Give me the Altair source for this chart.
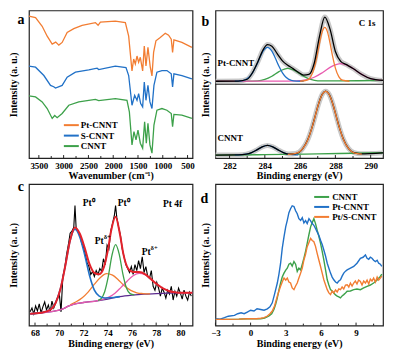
import altair as alt
import pandas as pd

FONT = "Liberation Serif"
W1, W2 = 164, 168
H1, H2 = 148, 142

# ---------------- Panel a : FTIR ----------------
a_pt_x = [3701,3567,3433,3332,3231,3160,3097,3030,2929,2795,2627,2359,2305,2258,1957,1755,1688,1621,1587,1554,1520,1487,1453,1406,1373,1339,1299,1252,1218,1185,1138,1051,950,883,829,802,775,614,413]
a_pt_y = [143.3,141.7,133,123,115,117,114,116.7,126.7,130.7,134,136.7,134,137.3,138.3,136.7,123,88,100,95,103,96.7,101.7,88,113,93,111.7,91.7,83,106.7,118.3,121.7,126,124,120,106.7,119.3,116.7,111.7]
a_s_x = [3701,3567,3399,3265,3200,3164,3030,2929,2762,2493,2325,2292,1957,1742,1688,1621,1567,1520,1487,1446,1406,1373,1339,1299,1259,1218,1178,1118,1017,916,829,802,775,614,413]
a_s_y = [92.7,91.7,83.3,73.3,72,70.7,73.3,81.7,86.7,89,90.7,89.3,92.7,91.3,83.3,53.3,63.3,58.3,65,55,51.7,76.7,58.3,73.3,56.7,50,73.3,86.7,88.3,88.3,85,71.7,85,83.3,80]
a_c_x = [3701,3567,3433,3332,3231,3180,3131,3030,2896,2694,2359,2292,1957,1722,1674,1621,1581,1540,1500,1453,1406,1366,1332,1299,1259,1218,1178,1118,1017,916,829,802,775,614,413]
a_c_y = [62.7,61.7,56.7,50,40,43,40.7,45,53.3,56.7,59.3,58,60,58.3,46.7,13.3,26.7,18.3,28.3,15,10,36.7,15,35,13.3,5,33.3,48.3,50,48.3,45,31.7,44,43.3,40]
a_ticks = [3500,3000,2500,2000,1500,1000,500]
a_minor = [3250,2750,2250,1750,1250,750]
a_names = ["Pt-CNNT", "S-CNNT", "CNNT"]

# ---------------- Panel b : C 1s ----------------
b1_blue_x = [282.3,282.5,282.8,283.1,283.3,283.5,283.7,283.9,284.15,284.4,284.6,284.8,285.0,285.2,285.5,285.8,286.2]
b1_blue_y = [77,77.2,78,81.1,85.5,92.1,100,107.2,111,107.2,100,92.1,85.5,81.1,78,77.2,77]
b1_green_x = [281.2,283.0,283.6,284.0,284.4,284.8,285.3,285.8,286.2,286.6,287.0,287.6,290.7]
b1_green_y = [77,77.1,77.4,78.8,82,86.7,90,86.7,82,78.8,77.4,77.3,78]
b1_orange_x = [286.0,286.4,286.6,286.8,286.95,287.1,287.25,287.4,287.55,287.7,287.85,288.0,288.2,288.4,288.8]
b1_orange_y = [77,78.1,81.4,90.2,101.4,115,126.5,131,126.5,115,101.4,90.2,81.4,78.1,77]
b1_pink_x = [281.2,285.3,285.8,286.3,286.8,287.3,287.8,288.3,288.8,289.3,289.8,290.3,290.7]
b1_pink_y = [77,77.2,77.3,78.3,81,86.1,92,94.7,92,86.1,81,78.3,77.8]
b1_sum_x = [281.2,282.5,283.0,283.3,283.6,283.9,284.15,284.4,284.7,285.0,285.3,285.6,285.9,286.2,286.5,286.8,287.1,287.4,287.7,288.0,288.3,288.6,289.0,289.5,290.0,290.7]
b1_sum_y = [77,77.2,79,85.6,96.4,108.5,113.8,112.2,104.7,97.5,93,89.7,86.1,83.2,83.8,95.1,122.1,141.4,129,106.9,97,93.9,89.8,83.8,79.6,77.8]
b2_blue_x = [282.3,282.95,283.25,283.55,283.85,284.15,284.45,284.75,285.05,285.35,285.9]
b2_blue_y = [3.1,3.9,5.5,8.2,11.2,12.7,11.2,8.2,5.5,3.9,3.1]
b2_orange_x = [285.3,285.85,286.15,286.45,286.65,286.85,287.05,287.25,287.45,287.65,287.85,288.05,288.25,288.45,288.75,289.05,289.5]
b2_orange_y = [3.6,5.3,9.4,18.9,29.1,41.7,54.4,63.7,67,63.7,54.4,41.7,29.1,18.9,9.4,5.3,4]
b2_green_x = [281.2,284.0,287.0,290.7]
b2_green_y = [3,3.4,4.2,5.3]
b2_sum_x = [281.2,282.5,282.95,283.25,283.55,283.85,284.15,284.45,284.75,285.05,285.35,285.75,286.15,286.45,286.65,286.85,287.05,287.25,287.45,287.65,287.85,288.05,288.25,288.45,288.75,289.05,289.45,290.0,290.7]
b2_sum_y = [3,3.1,3.9,5.5,8.2,11.2,12.7,11.2,8.2,5.5,4.0,4.5,9.5,19,29.2,41.8,54.5,63.8,67.1,63.8,54.5,41.8,29.2,19,9.5,5.4,4.2,4.5,5.2]
b_divider = [74]
b_ticks = [282,284,286,288,290]
b_minor = [283,285,287,289]

# ---------------- Panel c : Pt 4f ----------------
c_raw_x = [67.6,67.75,67.9,68.05,68.2,68.35,68.5,68.65,68.8,68.95,69.1,69.25,69.4,69.55,69.7,69.85,70.0,70.15,70.3,70.45,70.6,70.75,70.9,71.05,71.2,71.3,71.4,71.55,71.7,71.85,72.0,72.15,72.3,72.45,72.6,72.75,72.9,73.05,73.2,73.35,73.5,73.65,73.8,73.95,74.1,74.25,74.4,74.55,74.65,74.75,74.9,75.05,75.2,75.35,75.5,75.65,75.8,75.95,76.1,76.25,76.4,76.55,76.7,76.85,77.0,77.15,77.3,77.45,77.6,77.75,77.9,78.05,78.2,78.35,78.5,78.65,78.8,78.95,79.1,79.25,79.4,79.55,79.7,79.85,80.0,80.15,80.3,80.45,80.6,80.75,80.9]
c_raw_y = [14,18,12,20,15,22,13,19,24,16,21,14,25,18,23,28,33,14,50,58,72,82,94,96,100,122,98,96,92,84,80,72,64,60,52,55,50,56,52,58,55,68,62,82,78,96,104,112,122,110,100,92,78,70,62,58,54,60,52,62,56,66,58,70,54,60,50,48,56,40,36,44,38,30,38,34,28,36,32,40,26,35,30,38,33,27,36,30,26,34,30]
c_bg_x = [67.6,68.5,69.5,70.3,70.8,71.3,72.0,73.0,74.0,75.0,76.0,77.0,78.0,79.0,81.0]
c_bg_y = [12,13,14.5,17,20,22,23.5,25,27,29.5,31,32,32.5,33,33.5]
c_blue_x = [67.6,68.5,69.3,69.7,70.1,70.5,70.9,71.3,71.7,72.1,72.5,72.9,73.3,73.8,74.5,75.0]
c_blue_y = [12.1,13.2,16.8,23.5,37.5,61,86.5,98,90,72,51,36,30,28,28.5,29.5]
c_green_x = [73.2,73.45,73.75,74.05,74.35,74.65,74.95,75.25,75.55,75.85,76.2]
c_green_y = [25.7,27.3,34.5,50,71.4,82.3,72.7,52.7,38.2,32.5,31.3]
c_orange_x = [70.9,71.4,71.9,72.4,72.9,73.4,73.9,74.4,74.9,75.4,75.9,76.4,76.9,77.5]
c_orange_y = [21.1,24.2,28.3,34.3,42.1,48.9,52.8,51.3,46.2,40.2,35.8,33.4,32.6,32.3]
c_pink_x = [67.6,68.5,69.5,70.3,70.8,71.3,72.0,73.0,73.6,74.1,74.6,75.1,75.6,76.1,76.6,77.1,77.6,78.1,78.6,79.1,79.6,80.1,81.0]
c_pink_y = [12,13,14.5,17,20,22,23.5,25,26.7,29,32.9,38.9,45.2,50.7,53.1,51.7,47,41.8,37.5,35,33.8,33.3,33.5]
c_fit_x = [67.6,68.5,69.3,69.7,70.1,70.5,70.9,71.3,71.7,72.1,72.5,72.9,73.3,73.7,74.0,74.3,74.65,75.0,75.3,75.7,76.1,76.6,77.1,77.6,78.1,78.6,79.1,79.6,80.1,81.0]
c_fit_y = [12,13,16.4,22.9,37.2,60.8,87,99.8,93.4,79.1,62.5,53.6,52.2,60,75.7,97.5,110.7,93.7,72.4,57.7,54.4,54.4,52.2,47,41.8,37.5,35,33.8,33.3,33.5]
c_ticks = [68,70,72,74,76,78,80]
c_minor = [69,71,73,75,77,79]

# ---------------- Panel d : valence band ----------------
d_blue_x = [-3.0,-2.6,-2.23,-1.9,-1.38,-1.1,-0.81,-0.55,-0.28,0.0,0.29,0.55,0.86,1.15,1.43,1.65,1.85,2.05,2.28,2.42,2.56,2.7,2.85,3.0,3.13,3.27,3.41,3.55,3.70,3.84,3.98,4.12,4.27,4.41,4.55,4.69,4.83,4.98,5.12,5.26,5.40,5.54,5.68,5.83,5.97,6.11,6.25,6.4,6.54,6.68,6.82,6.96,7.10,7.25,7.39,7.53,7.67,7.81,7.95,8.1,8.24,8.52,8.80,9.08,9.37,9.6,9.80,9.94,10.08,10.22,10.36,10.5,10.65,10.8,10.93,11.07,11.2]
d_blue_y = [7,6.5,8,9.5,10.3,12,13,12,13.7,15.5,14.7,17,16.3,15.5,17,19,23,32,43,52,63,78,89.7,100,106.3,114,118,121,120.3,116,113,108,106.3,109,103.7,106,103,108,105.7,103,101.3,98,94.7,91,86.3,82,76.3,70,63,58,53,49,46.3,44,43,45,46.3,50,53,55,56.3,58,59.7,63,68,69,71.3,68,67,69,68,66,64.7,66,63,62,59.7]
d_green_x = [-3.0,-2.0,-1.0,-0.28,0.5,0.86,1.2,1.57,1.8,1.99,2.15,2.28,2.42,2.56,2.7,2.85,3.0,3.13,3.27,3.41,3.55,3.70,3.84,3.98,4.12,4.27,4.41,4.55,4.69,4.83,4.98,5.12,5.26,5.40,5.54,5.68,5.83,5.97,6.11,6.25,6.4,6.54,6.68,6.82,6.96,7.10,7.25,7.39,7.53,7.67,7.81,7.95,8.1,8.24,8.52,8.80,9.08,9.37,9.65,9.94,10.22,10.5,10.8,11.07,11.2]
d_green_y = [6.3,6.3,6.5,7,7,7,7.5,9.7,12,16.3,22,28,36,43,49,53,56,58,62,63,60,64.7,62,54.7,58,56.3,62,68,75,83,92,99.7,104,108,103,96.3,90,83,75,66.3,56,46.3,41,36.3,35,33,31,29.7,29,28,30,31.3,33,34.7,35,36.3,37,36.3,38,39.7,41,43,46,49.7,52]
d_orange_x = [-3.0,-2.0,-1.0,-0.28,0.5,0.86,1.15,1.43,1.65,1.85,2.05,2.28,2.42,2.56,2.7,2.85,3.0,3.13,3.27,3.41,3.55,3.70,3.84,3.98,4.12,4.27,4.41,4.55,4.69,4.83,4.98,5.12,5.26,5.40,5.54,5.68,5.83,5.97,6.11,6.25,6.4,6.54,6.68,6.82,6.96,7.10,7.25,7.39,7.53,7.67,7.81,7.95,8.1,8.24,8.38,8.52,8.66,8.80,8.94,9.08,9.22,9.37,9.51,9.65,9.8,9.94,10.08,10.22,10.36,10.5,10.65,10.8,10.93,11.07,11.2]
d_orange_y = [6.3,6.3,6.5,7,7,7.5,8,9.7,12,14.7,20,29.7,35,39.7,44,48,46,48,44,43,38,36.3,40,43,48,53,58,66.3,72,79.7,84,88,86,84.7,80,73,66,59.7,53,46.3,41,36.3,33,31.3,35,33,36,34,37,36.3,39,37,41,41.3,39,43,40,43,45,42,46,44.7,41,45,43,46,42,47,45,48,44,49,46,48,50]
d_ticks = [-3,0,3,6,9]
d_minor = [-1.5,1.5,4.5,7.5,10.5]
d_names = ["CNNT", "Pt-CNNT", "Pt/S-CNNT"]

ORANGE, BLUE, GREEN = "#F27D32", "#2171C7", "#3DA14A"
PINK, PURPLE, RED = "#E85AAE", "#5B2A8E", "#E3222B"


def xaxis(vals, title, fmt=None):
    kw = dict(values=vals, ticks=False, domain=False, grid=False, labelPadding=3,
              title=title, titlePadding=1, labelFlush=False, labelOverlap=False)
    if fmt:
        kw["format"] = fmt
    return alt.Axis(**kw)


def yaxis(pad):
    return alt.Axis(labels=False, ticks=False, domain=False, grid=False,
                    title="Intensity (a. u.)", titlePadding=pad)


class Panel:
    def __init__(self, sx, sy, ax, ay):
        self.sx, self.sy, self.ax, self.ay = sx, sy, ax, ay

    def X(self):
        return alt.X("x:Q", scale=self.sx, axis=self.ax)

    def Y(self):
        return alt.Y("h:Q", scale=self.sy, axis=self.ay)

    def line(self, xs, ys, color, width=1.3, interp="linear"):
        df = pd.DataFrame({"x": xs, "h": ys})
        return alt.Chart(df).mark_line(color=color, strokeWidth=width, interpolate=interp,
                                       clip=True).encode(x=self.X(), y=self.Y())

    def ticks(self, vals, H, length):
        return alt.Chart(pd.DataFrame({"x": vals})).mark_rule(color="#222", strokeWidth=1).encode(
            x=self.X(), y=alt.value(H), y2=alt.value(H - length))


def txt(s, x, y, size=9, align="center", color="black"):
    return alt.Chart(pd.DataFrame({"t": [s]})).mark_text(
        font=FONT, fontWeight="bold", fontSize=size, align=align, baseline="middle", color=color
    ).encode(text="t:N", x=alt.value(x), y=alt.value(y))


def seg(x1, x2, y, color):
    return alt.Chart(pd.DataFrame({"t": [0]})).mark_rule(color=color, strokeWidth=2).encode(
        x=alt.value(x1), x2=alt.value(x2), y=alt.value(y))


# ---- a ----
A = Panel(alt.Scale(domain=[400, 3700], reverse=True, nice=False, zero=False),
          alt.Scale(domain=[0, 149], nice=False, zero=False),
          xaxis(a_ticks, "Wavenumber (cm⁻¹)", "d"), yaxis(10))
pa = alt.layer(
    A.line(a_pt_x, a_pt_y, ORANGE),
    A.line(a_s_x, a_s_y, BLUE),
    A.line(a_c_x, a_c_y, GREEN),
    A.ticks(a_ticks, H1, 3), A.ticks(a_minor, H1, 2),
    seg(35, 50, 115, ORANGE), txt(a_names[0], 52, 115, 9, "left"),
    seg(35, 50, 125.5, BLUE), txt(a_names[1], 52, 125.5, 9, "left"),
    seg(35, 50, 136, GREEN), txt(a_names[2], 52, 136, 9, "left"),
    txt("a", -8, 10, 14),
).properties(width=W1, height=H1)

# ---- b ----
B = Panel(alt.Scale(domain=[281.2, 290.7], nice=False, zero=False),
          alt.Scale(domain=[0, 148], nice=False, zero=False),
          xaxis(b_ticks, "Binding energy (eV)"), yaxis(5))
GREY = "#C9C9C9"
pb = alt.layer(
    B.line(b1_sum_x, b1_sum_y, GREY, width=5, interp="monotone"),
    B.line(b2_sum_x, b2_sum_y, GREY, width=5, interp="monotone"),
    B.line(b1_green_x, b1_green_y, GREEN, interp="monotone"),
    B.line(b1_pink_x, b1_pink_y, PINK, interp="monotone"),
    B.line(b1_blue_x, b1_blue_y, BLUE, interp="monotone"),
    B.line(b1_orange_x, b1_orange_y, ORANGE, interp="monotone"),
    B.line(b1_sum_x, b1_sum_y, "black", interp="monotone"),
    B.line(b2_green_x, b2_green_y, GREEN, interp="monotone"),
    B.line(b2_blue_x, b2_blue_y, BLUE, interp="monotone"),
    B.line(b2_sum_x, b2_sum_y, "black", interp="monotone"),
    B.line(b2_orange_x, b2_orange_y, ORANGE, interp="monotone"),
    alt.Chart(pd.DataFrame({"h": b_divider})).mark_rule(color="#222", strokeWidth=1.2).encode(
        y=B.Y(), x=alt.value(0), x2=alt.value(W2)),
    B.ticks(b_ticks, H1, 3), B.ticks(b_minor, H1, 2),
    txt("C 1s", 152, 13, 9), txt("Pt-CNNT", 2, 53, 9, "left"), txt("CNNT", 2, 128, 9, "left"),
    txt("b", -10, 12, 14),
).properties(width=W2, height=H1)

# ---- c ----
C = Panel(alt.Scale(domain=[67.5, 81], nice=False, zero=False),
          alt.Scale(domain=[0, 144], nice=False, zero=False),
          xaxis(c_ticks, "Binding energy (eV)"), yaxis(10))
pc = alt.layer(
    C.line(c_raw_x, c_raw_y, "black", width=1.1),
    C.line(c_bg_x, c_bg_y, PURPLE, interp="monotone"),
    C.line(c_orange_x, c_orange_y, ORANGE, interp="monotone"),
    C.line(c_pink_x, c_pink_y, PINK, interp="monotone"),
    C.line(c_green_x, c_green_y, GREEN, interp="monotone"),
    C.line(c_blue_x, c_blue_y, BLUE, width=1.6, interp="monotone"),
    C.line(c_fit_x, c_fit_y, RED, width=2, interp="monotone"),
    C.ticks(c_ticks, H2, 3), C.ticks(c_minor, H2, 2),
    txt("Pt⁰", 60, 19, 9.5), txt("Pt⁰", 95, 19, 9.5), txt("Pt 4f", 144, 20, 9.5),
    txt("Pt", 75, 57, 9.5, "right"), txt("δ+", 75, 53, 6.5, "left"),
    txt("Pt", 122, 68, 9.5, "right"), txt("δ+", 122, 64, 6.5, "left"),
    txt("c", -8, 3, 14),
).properties(width=W1, height=H2)

# ---- d ----
D = Panel(alt.Scale(domain=[-3, 11.3], nice=False, zero=False),
          alt.Scale(domain=[0, 143], nice=False, zero=False),
          xaxis(d_ticks, "Binding energy (eV)"), yaxis(5))
pd_ = alt.layer(
    D.line(d_green_x, d_green_y, GREEN, width=1.4),
    D.line(d_blue_x, d_blue_y, BLUE, width=1.4),
    D.line(d_orange_x, d_orange_y, ORANGE, width=1.4),
    D.ticks(d_ticks, H2, 3), D.ticks(d_minor, H2, 2),
    seg(99, 114, 13, GREEN), txt(d_names[0], 117, 13, 9, "left"),
    seg(99, 114, 23, BLUE), txt(d_names[1], 117, 23, 9, "left"),
    seg(99, 114, 33, ORANGE), txt(d_names[2], 117, 33, 9, "left"),
    txt("d", -11, 15, 14),
).properties(width=W2, height=H2)

chart = alt.ConcatChart(
    concat=[pa, pb, pc, pd_], columns=2, spacing={"row": 26, "column": 23},
    bounds="flush", align="each",
).resolve_scale(x="independent", y="independent").properties(
    padding={"left": 0, "top": 1, "right": 0, "bottom": 0}, background="white"
).configure_view(stroke="#222", strokeWidth=1.2).configure_axis(
    labelFont=FONT, labelFontWeight="bold", labelFontSize=9, labelColor="black",
    titleFont=FONT, titleFontWeight="bold", titleFontSize=10, titleColor="black",
)

chart.save("out.html", embed_options={"renderer": "svg", "actions": False})
